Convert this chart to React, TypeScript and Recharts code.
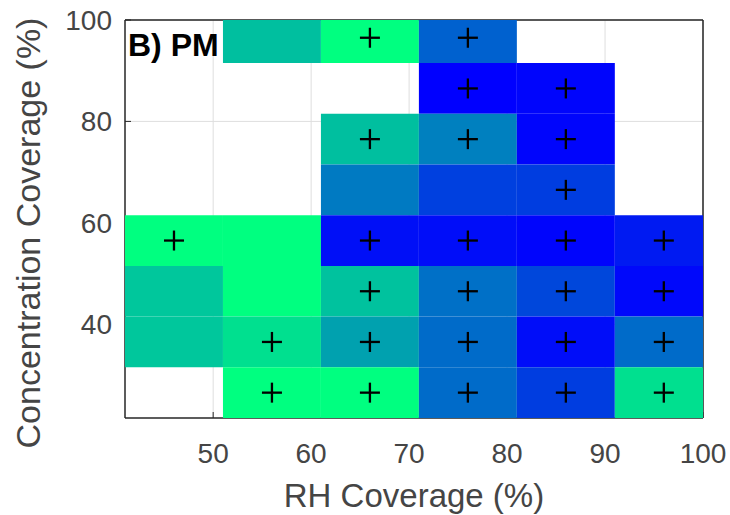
import React from 'react';
import { ComposedChart, XAxis, YAxis, CartesianGrid, ReferenceArea, Scatter } from 'recharts';

// RH coverage bin centres (%) and concentration coverage bin centres (%)
const rhBins = [46, 56, 66, 76, 86, 96];
const concBins = [96.5, 86.5, 76.5, 66.5, 56.5, 46.5, 36.5, 26.5];

// Cell values (0 = blue, 1 = green; null = empty cell), one array per concentration row
const conc96 = [null, 0.75, 1.0, 0.38, null, null];
const conc86 = [null, null, null, 0.0, 0.02, null];
const conc76 = [null, null, 0.75, 0.5, 0.02, null];
const conc66 = [null, null, 0.48, 0.25, 0.24, null];
const conc56 = [1.0, 1.0, 0.06, 0.05, 0.02, 0.1];
const conc46 = [0.78, 1.0, 0.76, 0.44, 0.28, 0.03];
const conc36 = [0.78, 0.88, 0.63, 0.42, 0.05, 0.42];
const conc26 = [null, 1.0, 1.0, 0.42, 0.24, 0.88];

// "+" marks: RH bin centres that carry a cross, per concentration row
const cross96 = [66, 76];
const cross86 = [76, 86];
const cross76 = [66, 76, 86];
const cross66 = [86];
const cross56 = [46, 66, 76, 86, 96];
const cross46 = [66, 76, 86, 96];
const cross36 = [56, 66, 76, 86, 96];
const cross26 = [56, 66, 76, 86, 96];

const xTicks = [50, 60, 70, 80, 90, 100];
const yTicks = [40, 60, 80, 100];
const xDomain = [41, 100];
const yDomain = [21.5, 100];
const binWidth = 10;

const valueRows = [conc96, conc86, conc76, conc66, conc56, conc46, conc36, conc26];
const crossRows = [cross96, cross86, cross76, cross66, cross56, cross46, cross36, cross26];

const FONT = '"Liberation Sans", Arial, Helvetica, sans-serif';
const TICK_COLOR = '#454545';
const AXIS_COLOR = '#262626';

// MATLAB "winter" colormap
const winter = (t: number) => {
  const g = Math.round(255 * t);
  const b = Math.round(255 * (1 - t / 2));
  return `rgb(0,${g},${b})`;
};

const cells: { x1: number; x2: number; y1: number; y2: number; v: number }[] = [];
valueRows.forEach((row, ri) => {
  row.forEach((v, ci) => {
    if (v === null || v === undefined) return;
    cells.push({
      x1: rhBins[ci] - binWidth / 2,
      x2: rhBins[ci] + binWidth / 2,
      y1: concBins[ri] - binWidth / 2,
      y2: concBins[ri] + binWidth / 2,
      v,
    });
  });
});

const crossData: { x: number; y: number }[] = [];
crossRows.forEach((row, ri) => {
  row.forEach((rh) => crossData.push({ x: rh, y: concBins[ri] }));
});

const CrossShape = (props: any) => {
  const { cx, cy } = props;
  if (cx == null || cy == null) return null;
  const a = 10;
  return (
    <g>
      <line x1={cx - a} x2={cx + a} y1={cy} y2={cy} stroke="#000" strokeWidth={2.3} />
      <line x1={cx} x2={cx} y1={cy - a} y2={cy + a} stroke="#000" strokeWidth={2.3} />
    </g>
  );
};

const XLabel = (props: any) => {
  const vb = props.viewBox || { x: 125, y: 418, width: 578, height: 97 };
  return (
    <text
      x={vb.x + vb.width / 2}
      y={vb.y + vb.height - 8}
      textAnchor="middle"
      fill={TICK_COLOR}
      fontSize={33}
      fontFamily={FONT}
    >
      RH Coverage (%)
    </text>
  );
};

const YLabel = () => {
  const X = 40;
  const Y = 233;
  return (
    <text
      transform={`translate(${X}, ${Y}) rotate(-90)`}
      x={0}
      y={0}
      textAnchor="middle"
      fill={TICK_COLOR}
      fontSize={34}
      fontFamily={FONT}
    >
      Concentration Coverage (%)
    </text>
  );
};

const PanelLabel = () => (
  <text x={128} y={56} fill="#000" fontSize={32} fontWeight="bold" fontFamily={FONT}>
    B) PM
  </text>
);

export default function App() {
  return (
    <div style={{ position: 'absolute', left: 0, top: 0, width: 730, height: 515, background: '#fff' }}>
      <ComposedChart width={730} height={515} margin={{ top: 0, right: 0, bottom: 0, left: 0 }}>
        <CartesianGrid stroke="#dedede" strokeWidth={1} horizontalValues={yTicks} verticalValues={xTicks} />
        <XAxis
          xAxisId={0}
          type="number"
          dataKey="x"
          domain={xDomain}
          ticks={xTicks}
          interval={0}
          allowDataOverflow
          height={97}
          tickSize={-6}
          tickMargin={31}
          tick={{ fill: TICK_COLOR, fontSize: 28, fontFamily: FONT }}
          axisLine={{ stroke: AXIS_COLOR, strokeWidth: 1.5 }}
          tickLine={{ stroke: AXIS_COLOR, strokeWidth: 1 }}
          label={<XLabel />}
          zIndex={-10}
        />
        <XAxis
          xAxisId="top"
          orientation="top"
          type="number"
          domain={xDomain}
          ticks={xTicks}
          interval={0}
          allowDataOverflow
          height={20}
          tickSize={-6}
          tick={false}
          axisLine={{ stroke: AXIS_COLOR, strokeWidth: 1.5 }}
          tickLine={{ stroke: AXIS_COLOR, strokeWidth: 1 }}
          label={<PanelLabel />}
          zIndex={-10}
        />
        <YAxis
          yAxisId={0}
          type="number"
          dataKey="y"
          domain={yDomain}
          ticks={yTicks}
          interval={0}
          allowDataOverflow
          width={125}
          tickSize={-6}
          tickMargin={19}
          tick={{ fill: TICK_COLOR, fontSize: 28, fontFamily: FONT }}
          axisLine={{ stroke: AXIS_COLOR, strokeWidth: 1.5 }}
          tickLine={{ stroke: AXIS_COLOR, strokeWidth: 1 }}
          label={<YLabel />}
          zIndex={-10}
        />
        <YAxis
          yAxisId="right"
          orientation="right"
          type="number"
          domain={yDomain}
          ticks={yTicks}
          interval={0}
          allowDataOverflow
          width={27}
          tickSize={-6}
          tick={false}
          axisLine={{ stroke: AXIS_COLOR, strokeWidth: 1.5 }}
          tickLine={{ stroke: AXIS_COLOR, strokeWidth: 1 }}
          zIndex={-10}
        />
        {cells.map((c, i) => (
          <ReferenceArea
            key={`cell-${i}`}
            xAxisId={0}
            yAxisId={0}
            x1={c.x1}
            x2={c.x2}
            y1={c.y1}
            y2={c.y2}
            fill={winter(c.v)}
            fillOpacity={1}
            stroke="none"
            ifOverflow="hidden"
            zIndex={10}
          />
        ))}
        <Scatter
          xAxisId={0}
          yAxisId={0}
          data={crossData}
          dataKey="y"
          shape={<CrossShape />}
          isAnimationActive={false}
          zIndex={20}
        />
      </ComposedChart>
    </div>
  );
}
